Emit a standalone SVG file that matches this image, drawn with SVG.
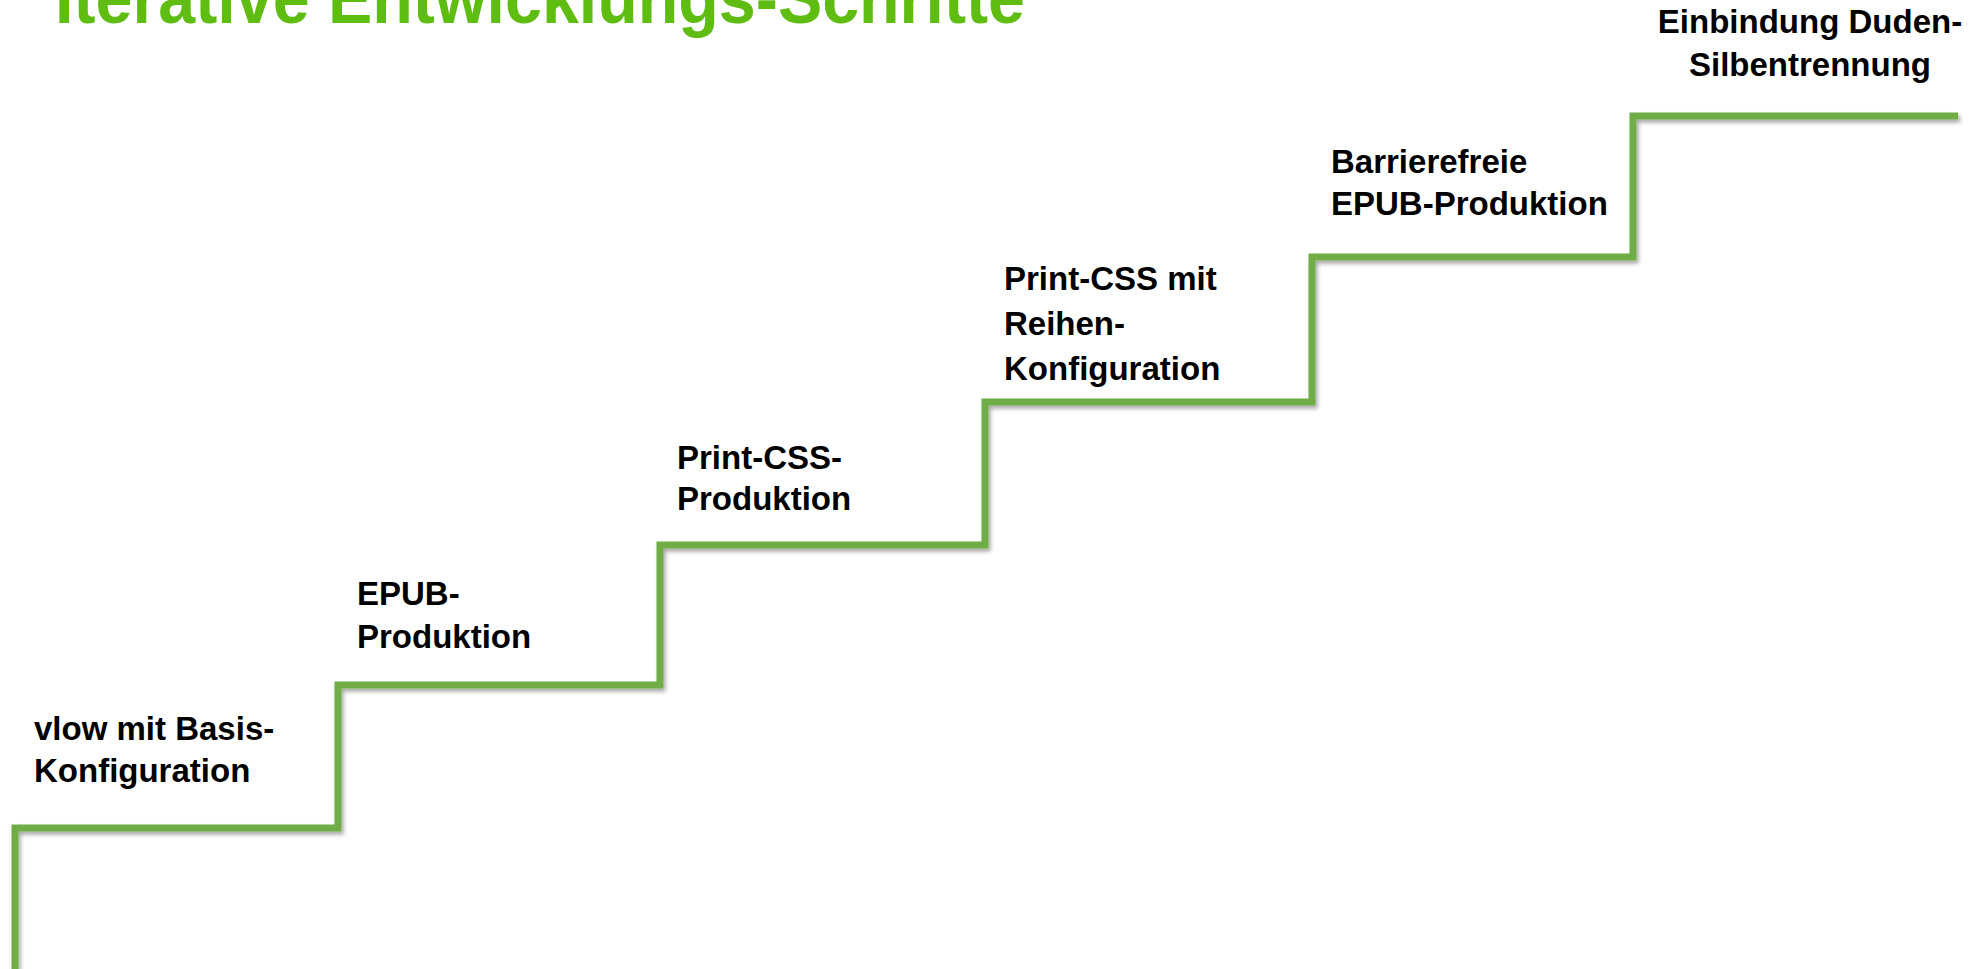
<svg xmlns="http://www.w3.org/2000/svg" width="1980" height="969" viewBox="0 0 1980 969">
<style>
.lbl{font-family:"Liberation Sans",Arial,sans-serif;font-weight:bold;font-size:33px;fill:#000}
.title{font-family:"Liberation Sans",Arial,sans-serif;font-weight:bold;font-size:72px;fill:#5FBD12}
.step{fill:none;stroke:#70AD47;stroke-width:7;stroke-linejoin:miter;stroke-linecap:butt}
</style>
<defs>
<filter id="sh" x="-5%" y="-5%" width="110%" height="110%">
<feDropShadow dx="2" dy="3" stdDeviation="2" flood-color="#000" flood-opacity="0.35"/>
</filter>
</defs>
<rect width="1980" height="969" fill="#fff"/>
<text class="title" x="55" y="23" textLength="970" lengthAdjust="spacingAndGlyphs">Iterative Entwicklungs-Schritte</text>
<g id="connectors" filter="url(#sh)">
<path class="step" d="M15,969 V828 H338 V685 H660 V545 H985 V402 H1312 V257 H1633 V116 H1958"/>
</g>
<g id="step1"><text class="lbl" x="34" y="740">vlow mit Basis-</text><text class="lbl" x="34" y="782">Konfiguration</text></g>
<g id="step2"><text class="lbl" x="357" y="605">EPUB-</text><text class="lbl" x="357" y="648">Produktion</text></g>
<g id="step3"><text class="lbl" x="677" y="469">Print-CSS-</text><text class="lbl" x="677" y="510">Produktion</text></g>
<g id="step4"><text class="lbl" x="1004" y="290">Print-CSS mit</text><text class="lbl" x="1004" y="335">Reihen-</text><text class="lbl" x="1004" y="380">Konfiguration</text></g>
<g id="step5"><text class="lbl" x="1331" y="173">Barrierefreie</text><text class="lbl" x="1331" y="215">EPUB-Produktion</text></g>
<g id="step6"><text class="lbl" x="1810" y="33" text-anchor="middle">Einbindung Duden-</text><text class="lbl" x="1810" y="76" text-anchor="middle">Silbentrennung</text></g>
</svg>
